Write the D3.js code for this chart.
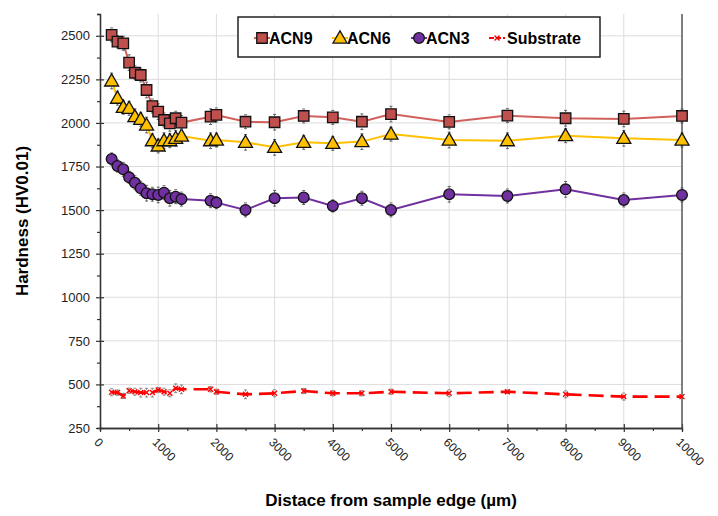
<!DOCTYPE html>
<html>
<head>
<meta charset="utf-8">
<script src="https://cdn.jsdelivr.net/npm/d3@7"></script>
<style>
  body { margin: 0; background: #fff; }
  svg { font-family: "Liberation Sans", Arial, sans-serif; }
</style>
</head>
<body>
<div id="chart"></div>
<script>
// distance from the edge (um)
var distances = [200, 300, 400, 500, 600, 700, 800, 900, 1000, 1100, 1200, 1300, 1400,
    1900, 2000, 2500, 3000, 3500, 4000, 4500, 5000, 6000, 7000, 8000, 9000, 10000];

var acn9 = [2505, 2466, 2457, 2346, 2288, 2275, 2189, 2097, 2065, 2017, 1998, 2027, 2002,
    2036, 2046, 2007, 2004, 2040, 2032, 2007, 2051, 2006, 2042, 2027, 2023, 2040];
var acn6 = [2241, 2142, 2090, 2084, 2036, 2021, 1988, 1898, 1868, 1898, 1898, 1912, 1925,
    1898, 1902, 1889, 1860, 1889, 1883, 1893, 1936, 1902, 1898, 1927, 1912, 1902];
var acn3 = [1793, 1753, 1734, 1688, 1657, 1625, 1597, 1591, 1587, 1600, 1568, 1577, 1563,
    1554, 1543, 1501, 1568, 1572, 1524, 1568, 1501, 1591, 1581, 1619, 1558, 1587];
var substrate = [455, 453, 434, 464, 458, 453, 453, 453, 468, 458, 449, 478, 472,
    472, 458, 443, 449, 462, 449, 449, 458, 449, 458, 443, 430, 430];

// error bar half widths
var acn9Err = [40, 35, 40, 45, 40, 40, 45, 40, 45, 40, 45, 40, 40,
    45, 40, 40, 45, 40, 40, 45, 45, 40, 40, 45, 45, 40];
var acn6Err = [45, 40, 40, 40, 45, 40, 45, 40, 40, 45, 40, 45, 40,
    45, 40, 45, 45, 40, 40, 45, 40, 45, 45, 40, 45, 40];
var acn3Err = [35, 35, 40, 35, 40, 40, 45, 40, 45, 40, 45, 40, 40,
    40, 35, 40, 45, 40, 35, 40, 40, 45, 40, 45, 40, 40];
var subErr = [20, 15, 15, 15, 20, 25, 25, 25, 15, 20, 20, 25, 25,
    15, 15, 25, 20, 15, 15, 15, 15, 20, 10, 20, 20, 10];

var xTicks = [0, 1000, 2000, 3000, 4000, 5000, 6000, 7000, 8000, 9000, 10000];
var yTicks = [250, 500, 750, 1000, 1250, 1500, 1750, 2000, 2250, 2500];

var w = 718, h = 516;
var margin = {top: 14, right: 36, bottom: 88, left: 100};

var svg = d3.select("#chart").append("svg")
    .attr("width", w)
    .attr("height", h);

var xScale = d3.scaleLinear().domain([0, 10000]).range([margin.left, w - margin.right]);
var yScale = d3.scaleLinear().domain([250, 2625]).range([h - margin.bottom, margin.top]);

// grid
svg.append("g").selectAll("line").data(xTicks.slice(1, -1))
    .enter().append("line")
    .attr("x1", function(d) { return xScale(d); })
    .attr("x2", function(d) { return xScale(d); })
    .attr("y1", yScale(2625)).attr("y2", yScale(250))
    .attr("stroke", "#dcdcdc").attr("stroke-width", 1);
svg.append("g").selectAll("line").data(yTicks.slice(1))
    .enter().append("line")
    .attr("x1", xScale(0)).attr("x2", xScale(10000))
    .attr("y1", function(d) { return yScale(d); })
    .attr("y2", function(d) { return yScale(d); })
    .attr("stroke", "#dcdcdc").attr("stroke-width", 1);

// axes
var fmt = d3.format("d");
var xAxis = d3.axisBottom(xScale).tickValues(xTicks).tickFormat(fmt).tickSize(4).tickSizeOuter(0);
var xMinor = d3.axisBottom(xScale).tickValues(d3.range(500, 10000, 1000)).tickSize(3).tickFormat("");
var yAxis = d3.axisLeft(yScale).tickValues(yTicks).tickFormat(fmt).tickSize(4).tickSizeOuter(0).tickPadding(6);
var yMinor = d3.axisLeft(yScale).tickValues([375, 625, 875, 1125, 1375, 1625, 1875, 2125, 2375, 2625]).tickSize(3).tickFormat("");

var xg = svg.append("g").attr("transform", "translate(0," + yScale(250) + ")").call(xAxis);
svg.append("g").attr("transform", "translate(0," + yScale(250) + ")").call(xMinor);
var yg = svg.append("g").attr("transform", "translate(" + xScale(0) + ",0)").call(yAxis);
svg.append("g").attr("transform", "translate(" + xScale(0) + ",0)").call(yMinor);

svg.selectAll(".domain").attr("stroke", "#333").attr("stroke-width", 1.3);
svg.selectAll(".tick line").attr("stroke", "#333").attr("stroke-width", 1.2);
// major ticks cross the axis
xg.selectAll(".tick line").attr("y1", -4);
yg.selectAll(".tick line").attr("x1", 4);

yg.selectAll(".tick text").attr("font-size", 13).attr("fill", "#222");
xg.selectAll(".tick text")
    .attr("font-size", 12).attr("fill", "#222")
    .attr("text-anchor", "start")
    .attr("dy", "0.35em")
    .attr("transform", "translate(-4,12) rotate(45)")
    .attr("x", 0).attr("y", 0);

// right border
svg.append("line")
    .attr("x1", xScale(10000)).attr("x2", xScale(10000))
    .attr("y1", yScale(2625)).attr("y2", yScale(250))
    .attr("stroke", "#555").attr("stroke-width", 1.5);

// titles
svg.append("text")
    .attr("x", (xScale(0) + xScale(10000)) / 2)
    .attr("y", 506)
    .attr("text-anchor", "middle")
    .attr("font-size", 17).attr("font-weight", "bold")
    .text("Distace from sample edge (µm)");
svg.append("text")
    .attr("transform", "translate(28," + ((yScale(250) + yScale(2625)) / 2) + ") rotate(-90)")
    .attr("text-anchor", "middle")
    .attr("font-size", 17).attr("font-weight", "bold")
    .text("Hardness (HV0.01)");

var series = [
    {name: "ACN9", vals: acn9, err: acn9Err, line: "#d0605c", fill: "#c0504d", shape: "square"},
    {name: "ACN6", vals: acn6, err: acn6Err, line: "#ffc000", fill: "#ffc000", shape: "triangle"},
    {name: "ACN3", vals: acn3, err: acn3Err, line: "#7030a0", fill: "#7030a0", shape: "circle"},
    {name: "Substrate", vals: substrate, err: subErr, line: "#ff0000", fill: "#ff0000", shape: "cross"}
];

var line = d3.line()
    .x(function(d) { return xScale(d[0]); })
    .y(function(d) { return yScale(d[1]); });

function symbolPath(shape) {
    if (shape == "square") return d3.symbol(d3.symbolSquare, 110)();
    if (shape == "triangle") return d3.symbol(d3.symbolTriangle, 85)();
    if (shape == "circle") return d3.symbol(d3.symbolCircle, 90)();
    return d3.symbol(d3.symbolX, 18)();
}

series.slice().reverse().forEach(function(s) {
    var pts = distances.map(function(x, i) { return [x, s.vals[i], s.err[i]]; });
    var g = svg.append("g");

    g.append("path").datum(pts)
        .attr("d", line)
        .attr("fill", "none")
        .attr("stroke", s.line)
        .attr("stroke-width", s.shape == "cross" ? 2.6 : 2)
        .attr("stroke-dasharray", s.shape == "cross" ? "15,7" : null);

    // error bars
    var eb = g.selectAll(".eb").data(pts).enter().append("g")
        .attr("stroke", s.shape == "cross" ? "#777" : "#555")
        .attr("stroke-width", 0.9);
    eb.append("line")
        .attr("x1", function(d) { return xScale(d[0]); })
        .attr("x2", function(d) { return xScale(d[0]); })
        .attr("y1", function(d) { return yScale(d[1] - d[2]); })
        .attr("y2", function(d) { return yScale(d[1] + d[2]); })
        .attr("stroke-dasharray", "1.5,2");
    eb.append("line")
        .attr("x1", function(d) { return xScale(d[0]) - 1.5; })
        .attr("x2", function(d) { return xScale(d[0]) + 1.5; })
        .attr("y1", function(d) { return yScale(d[1] + d[2]); })
        .attr("y2", function(d) { return yScale(d[1] + d[2]); });
    eb.append("line")
        .attr("x1", function(d) { return xScale(d[0]) - 1.5; })
        .attr("x2", function(d) { return xScale(d[0]) + 1.5; })
        .attr("y1", function(d) { return yScale(d[1] - d[2]); })
        .attr("y2", function(d) { return yScale(d[1] - d[2]); });

    g.selectAll(".mk").data(pts).enter().append("path")
        .attr("d", symbolPath(s.shape))
        .attr("transform", function(d) {
            return "translate(" + xScale(d[0]) + "," + (yScale(d[1]) + (s.shape == "triangle" ? 1 : 0)) + ")";
        })
        .attr("fill", s.fill)
        .attr("stroke", s.shape == "cross" ? s.fill : "#111")
        .attr("stroke-width", s.shape == "cross" ? 1.4 : 1.3);
});

// legend
var legend = svg.append("g");
legend.append("rect")
    .attr("x", 238).attr("y", 17).attr("width", 362).attr("height", 40)
    .attr("fill", "#fff").attr("stroke", "#222").attr("stroke-width", 1.5);

var legX = [262, 340, 419, 497];
series.forEach(function(s, i) {
    var cx = legX[i], cy = 38;
    legend.append("line")
        .attr("x1", cx - 8).attr("x2", cx + 8)
        .attr("y1", cy).attr("y2", cy)
        .attr("stroke", s.line).attr("stroke-width", 2)
        .attr("stroke-dasharray", s.shape == "cross" ? "5,2" : null);
    legend.append("path")
        .attr("d", symbolPath(s.shape))
        .attr("transform", "translate(" + cx + "," + (cy + (s.shape == "triangle" ? 1 : 0)) + ")")
        .attr("fill", s.fill)
        .attr("stroke", s.shape == "cross" ? s.fill : "#111")
        .attr("stroke-width", s.shape == "cross" ? 1.4 : 1.3);
    legend.append("text")
        .attr("x", cx + (s.shape == "cross" ? 10 : 7)).attr("y", cy + 6)
        .attr("font-size", 16).attr("font-weight", "bold")
        .text(s.name);
});
</script>
</body>
</html>
